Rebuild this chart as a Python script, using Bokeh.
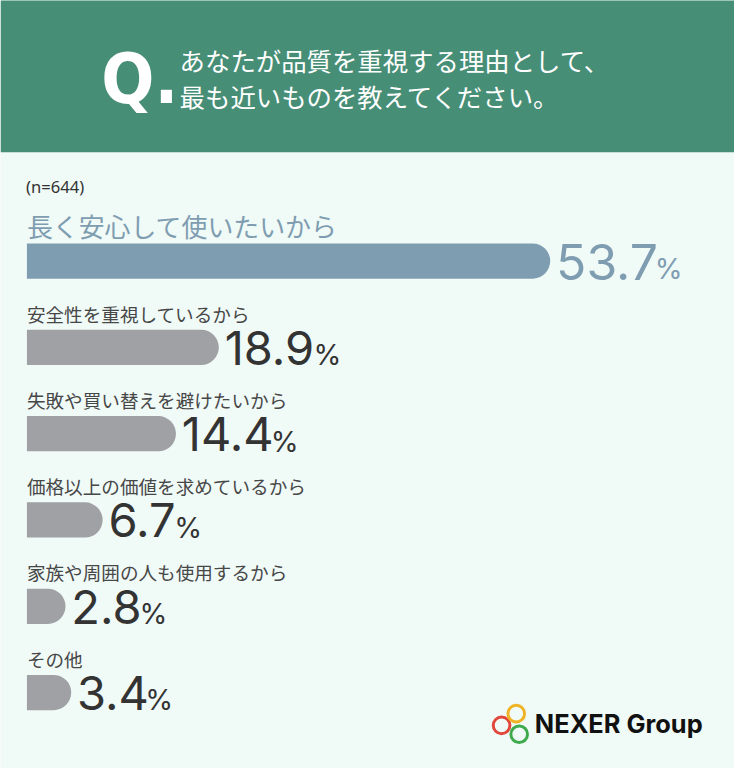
from bokeh.plotting import figure
from bokeh.models import Range1d, ColumnDataSource
from bokeh.core.properties import value
from bokeh.embed import file_html
from bokeh.resources import INLINE

# ---------------- data ----------------
question_lines = ["あなたが品質を重視する理由として、", "最も近いものを教えてください。"]
sample_note = "(n=644)"
categories = [
    "長く安心して使いたいから",
    "安全性を重視しているから",
    "失敗や買い替えを避けたいから",
    "価格以上の価値を求めているから",
    "家族や周囲の人も使用するから",
    "その他",
]
percentages = [53.7, 18.9, 14.4, 6.7, 2.8, 3.4]
brand = "NEXER Group"

# ---------------- layout / style ----------------
W, H = 734, 768
REF_W, REF_H = 750, 784       # design canvas (y in design pixels, downward)
S = W / REF_W                 # design px -> screen px
PX_PER_PCT = 9.73             # design px per 1 %
BAR_LEFT = 27                 # design x of bar start
CAP = 1.25                    # rounded end cap (in % units)
ROW0, ROW_STEP = 266, 88.1    # design y of first bar centre, row step
BAR_H = 36

HEADER = "#478e77"
BG = "#f0faf7"
HIGHLIGHT = "#7f9db1"
GREY_BAR = "#a0a1a4"
DARK = "#333333"
LABEL = "#474747"
JP = value("Noto Sans CJK JP")
NUM = value("Inter")


def fs(px_size):
    return f"{px_size * S:.1f}px"


x0 = -BAR_LEFT / PX_PER_PCT
x_range = Range1d(x0, x0 + REF_W / PX_PER_PCT)
y_range = Range1d(REF_H, 0)


def px(xd):
    """design x pixel -> data x"""
    return x0 + xd / PX_PER_PCT


p = figure(width=W, height=H, x_range=x_range, y_range=y_range,
           output_backend="svg", toolbar_location=None, tools="",
           min_border=0)
p.axis.visible = False
p.grid.visible = False
p.outline_line_color = None
p.background_fill_color = BG
p.border_fill_color = BG

# header band
p.quad(left=[x_range.start], right=[x_range.end], top=[-5], bottom=[155],
       fill_color=HEADER, line_color=None)
p.text(x=[px(103)], y=[80], text=["Q."],
       text_font=value("DejaVu Sans Condensed, DejaVu Sans"),
       text_font_style="bold", text_font_size=fs(71), text_color="white",
       text_baseline="middle")
p.text(x=[px(183), px(183)], y=[61, 97.5], text=question_lines, text_font=JP,
       text_font_size=fs(26), text_color="white", text_baseline="middle")

# sample size
p.text(x=[px(26)], y=[190], text=[sample_note], text_font=value("Noto Sans"),
       text_font_size=fs(17), text_color=DARK, text_baseline="middle")

# bars
n = len(categories)
ys = [ROW0 + i * ROW_STEP for i in range(n)]
colors = [HIGHLIGHT if i == 0 else GREY_BAR for i in range(n)]
txt_colors = [HIGHLIGHT if i == 0 else DARK for i in range(n)]
rights = [v + CAP for v in percentages]

src = ColumnDataSource(dict(y=ys, right=rights, color=colors))
r = 18
p.hbar(y="y", left=0, right="right", height=BAR_H, source=src,
       fill_color="color", line_color=None, border_radius=(0, r, r, 0))

# category labels
p.text(x=[0], y=[ys[0] - 36], text=[categories[0]], text_font=JP,
       text_font_size=fs(26.5), text_color=HIGHLIGHT, text_baseline="middle")
p.text(x=[0] * (n - 1), y=[y - 35 for y in ys[1:]], text=categories[1:], text_font=JP,
       text_font_size=fs(19), text_color=LABEL, text_baseline="middle")

# value labels
DIGIT_W = {"1": 0.44, ".": 0.25, "7": 0.53}


def est_w(s, size):
    return sum(DIGIT_W.get(c, 0.58) for c in s) * size


num_sizes = [51 if i == 0 else 48 for i in range(n)]
num_txt = [f"{v}" for v in percentages]
GAP = 6
pct_x = [rr + (GAP + est_w(t, s) + 2) / PX_PER_PCT for rr, t, s in zip(rights, num_txt, num_sizes)]
for i in range(n):
    p.text(x=[rights[i]], y=[ys[i] + 0.5], text=[num_txt[i]], x_offset=GAP * S,
           text_font=NUM, text_font_size=fs(num_sizes[i]), text_color=txt_colors[i],
           text_baseline="middle")
    p.text(x=[pct_x[i]], y=[ys[i] + 7.5], text=["%"], text_font=NUM,
           text_font_size=fs(29), text_color=txt_colors[i], text_baseline="middle")

# brand logo
p.scatter(x=[px(512), px(527), px(530)], y=[740, 728, 749], marker="circle", size=17 * S,
          fill_color=None, line_color=["#e1473b", "#f0b323", "#3eaa4b"], line_width=3 * S)
p.text(x=[px(546)], y=[738], text=[brand], text_font=NUM, text_font_style="bold",
       text_font_size=fs(26), text_color="#111111", text_baseline="middle")

open("out.html", "w").write(file_html(p, INLINE))
